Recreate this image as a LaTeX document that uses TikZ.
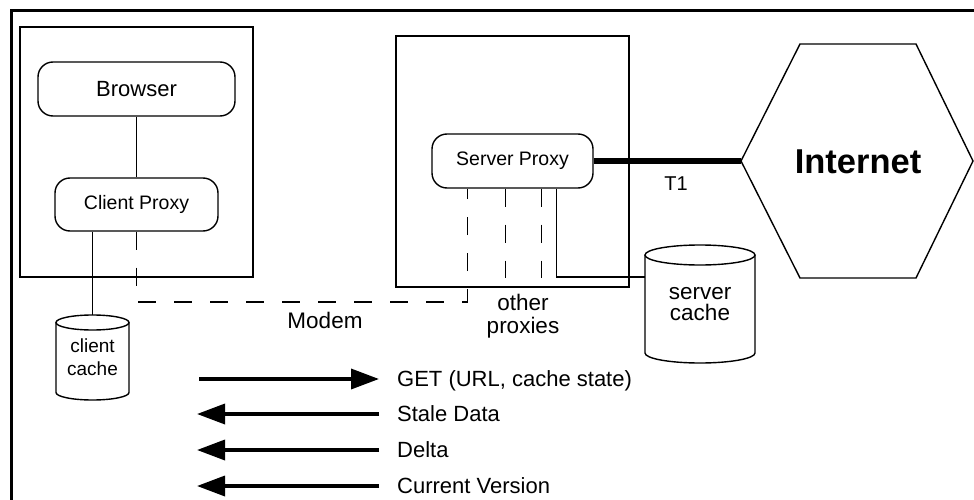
\documentclass[tikz,border=0pt]{standalone}
\usepackage{fontspec}
\setmainfont{Liberation Sans}
\usetikzlibrary{arrows.meta,calc}
\begin{document}
\begin{tikzpicture}[x=1pt,y=-1pt,
  thinline/.style={line width=1.4pt},
  box/.style={draw,line width=1.4pt,inner sep=0pt},
  rbox/.style={draw,line width=1.4pt,rounded corners=15pt,inner sep=0pt},
  dashline/.style={line width=1.4pt,dash pattern=on 18pt off 18pt},
  msg/.style={line width=3.5pt,-{Triangle[length=28pt,width=20pt]}},
  lbl/.style={font=\fontsize{22}{26}\selectfont,inner sep=0pt,anchor=base west},
  txt/.style={inner sep=0pt,align=center},
]
\useasboundingbox (0,0) rectangle (974,500);
\fill[white] (0,0) rectangle (974,500);
% outer frame (only top and left edges visible)
\draw[line width=3pt] (11,520) -- (11,11) -- (990,11);
% client side
\node[box,minimum width=233pt,minimum height=250pt] (clientbox) at (136.5,152) {};
\node[rbox,minimum width=197pt,minimum height=54pt,font=\fontsize{22}{26}\selectfont] (browser) at (136.5,89) {Browser};
\node[rbox,minimum width=163pt,minimum height=53pt,font=\fontsize{19.5}{24}\selectfont] (cproxy) at (136.5,204.5) {Client Proxy};
% server side
\node[box,minimum width=233pt,minimum height=251pt] (serverbox) at (512.5,161.5) {};
\node[rbox,minimum width=161pt,minimum height=54pt,font=\fontsize{19.5}{24}\selectfont] (sproxy) at (512.5,161) {Server Proxy};
% caches
\node[txt,minimum width=73pt,minimum height=85pt,font=\fontsize{19}{23}\selectfont] (ccache) at (92.5,357.5) {client\\cache};
\draw[thinline] (92.5,322.5) ellipse[x radius=36.5,y radius=7.5];
\draw[thinline] (56,322.5) -- (56,392.5) arc[start angle=180,end angle=0,x radius=36.5,y radius=7.5] -- (129,322.5);
\node[txt,minimum width=110pt,minimum height=118pt,font=\fontsize{22.5}{20.5}\selectfont] (scache) at (700,304) {server\\cache};
\draw[thinline] (700,255) ellipse[x radius=55,y radius=10];
\draw[thinline] (645,255) -- (645,353) arc[start angle=180,end angle=0,x radius=55,y radius=10] -- (755,255);
% internet
\draw[thinline] (741,161) coordinate (hexL) -- (800,44) -- (916,44) -- (973,161) -- (916,278) -- (800,278) -- cycle;
\node[txt,font=\bfseries\fontsize{34.5}{40}\selectfont] (internet) at (858,162) {Internet};
% connectors
\draw[thinline] (browser) -- (cproxy);
\draw[thinline] (cproxy.south -| ccache.north) -- (ccache.north);
\coordinate (sp1) at ($(sproxy.south west)+(36,0)$);
\coordinate (sp2) at ($(sproxy.south west)+(74,0)$);
\coordinate (sp3) at ($(sproxy.south west)+(110,0)$);
\coordinate (sp4) at ($(sproxy.south west)+(125,0)$);
\draw[dashline] (cproxy.south) -- (cproxy.south |- 0,302) -- (sp1 |- 0,302) -- (sp1);
\draw[dashline] (sp2) -- (sp2 |- 0,278);
\draw[dashline] (sp3) -- (sp3 |- 0,278);
\draw[thinline] (sp4) |- (scache.west |- 0,277);
\draw[line width=6.5pt] (sproxy.east) -- (hexL);
% labels
\node[txt,font=\fontsize{20}{24}\selectfont] (t1) at (676,184) {T1};
\node[txt,font=\fontsize{22.5}{26}\selectfont] (modem) at (325,320) {Modem};
\node[txt,font=\fontsize{22.5}{23}\selectfont] (other) at (523,316) {other\\proxies};
% legend
\node[lbl] (l1) at (397,386) {GET (URL, cache state)};
\node[lbl] (l2) at (397,421) {Stale Data};
\node[lbl] (l3) at (397,457) {Delta};
\node[lbl] (l4) at (397,493) {Current Version};
\coordinate (a1) at (199,379);
\coordinate (a2) at (197,414);
\coordinate (a3) at (197,450);
\coordinate (a4) at (197,486);
\draw[msg] (a1) -- (a1 -| 379,0);
\draw[msg] (a2 -| 379,0) -- (a2);
\draw[msg] (a3 -| 379,0) -- (a3);
\draw[msg] (a4 -| 379,0) -- (a4);
\end{tikzpicture}
\end{document}
